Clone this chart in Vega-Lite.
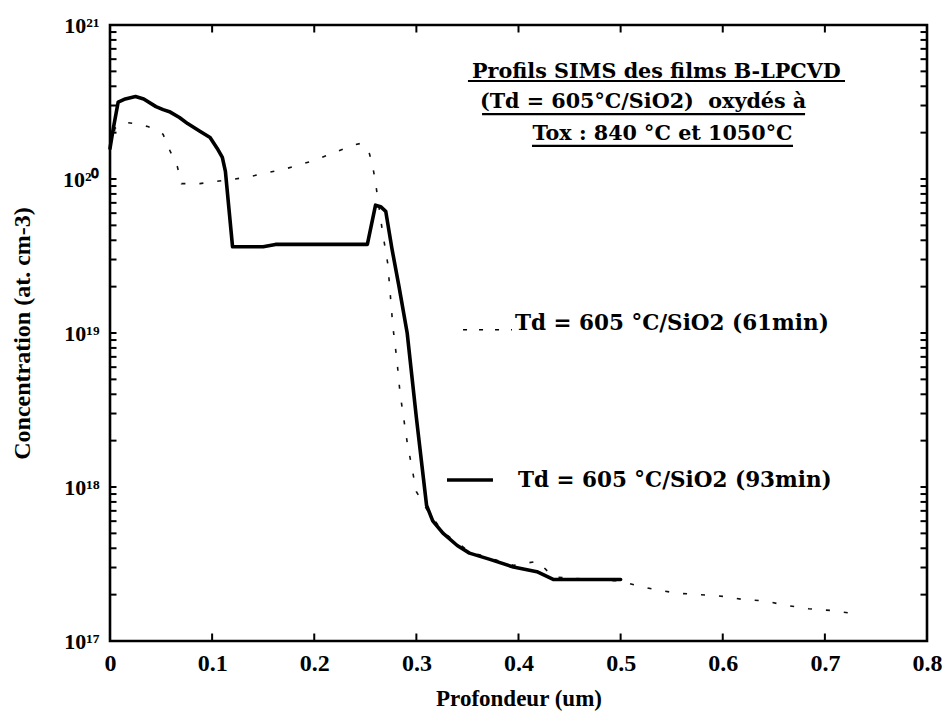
{
  "$schema": "https://vega.github.io/schema/vega-lite/v6.json",
  "width": 817,
  "height": 616,
  "autosize": {"type": "none"},
  "padding": {"left": 110, "top": 25, "right": 17, "bottom": 73},
  "background": "white",
  "config": {
    "view": {"stroke": "#000", "strokeWidth": 2.6},
    "axis": {
      "domain": false,
      "grid": false,
      "ticks": false,
      "labelColor": "#000",
      "titleColor": "#000",
      "labelFont": "Liberation Serif",
      "labelFontWeight": "bold",
      "titleFont": "Liberation Serif",
      "titleFontWeight": "bold"
    },
    "text": {"font": "DejaVu Serif", "fontWeight": "bold", "fontSize": 20, "color": "#000"},
    "tick": {"color": "#000", "thickness": 2, "opacity": 1}
  },
  "datasets": {
    "p61": [
      {"depth": 0.0, "conc": 1.58e20}, {"depth": 0.005, "conc": 2.14e20}, {"depth": 0.013, "conc": 2.34e20},
      {"depth": 0.025, "conc": 2.29e20}, {"depth": 0.037, "conc": 2.19e20}, {"depth": 0.045, "conc": 2.09e20},
      {"depth": 0.052, "conc": 1.95e20}, {"depth": 0.059, "conc": 1.51e20}, {"depth": 0.066, "conc": 1.2e20},
      {"depth": 0.07, "conc": 9.33e19}, {"depth": 0.08, "conc": 9.33e19}, {"depth": 0.088, "conc": 9.33e19},
      {"depth": 0.11, "conc": 9.77e19}, {"depth": 0.132, "conc": 1.02e20}, {"depth": 0.173, "conc": 1.17e20},
      {"depth": 0.2, "conc": 1.32e20}, {"depth": 0.238, "conc": 1.66e20}, {"depth": 0.245, "conc": 1.7e20},
      {"depth": 0.253, "conc": 1.55e20}, {"depth": 0.257, "conc": 1.23e20}, {"depth": 0.26, "conc": 9.55e19},
      {"depth": 0.262, "conc": 7.59e19}, {"depth": 0.267, "conc": 4.47e19}, {"depth": 0.272, "conc": 2.82e19},
      {"depth": 0.277, "conc": 1.1e19}, {"depth": 0.281, "conc": 6.61e18}, {"depth": 0.284, "conc": 4.07e18},
      {"depth": 0.291, "conc": 1.95e18}, {"depth": 0.3, "conc": 9.33e17}, {"depth": 0.31, "conc": 7.2e17},
      {"depth": 0.326, "conc": 5.1e17}, {"depth": 0.352, "conc": 3.8e17}, {"depth": 0.395, "conc": 3.1e17},
      {"depth": 0.419, "conc": 3.3e17}, {"depth": 0.434, "conc": 2.6e17}, {"depth": 0.5, "conc": 2.45e17},
      {"depth": 0.516, "conc": 2.29e17}, {"depth": 0.536, "conc": 2.14e17}, {"depth": 0.557, "conc": 2.04e17},
      {"depth": 0.578, "conc": 2.0e17}, {"depth": 0.6, "conc": 1.95e17}, {"depth": 0.62, "conc": 1.86e17},
      {"depth": 0.641, "conc": 1.82e17}, {"depth": 0.663, "conc": 1.7e17}, {"depth": 0.684, "conc": 1.62e17},
      {"depth": 0.705, "conc": 1.58e17}, {"depth": 0.727, "conc": 1.51e17}, {"depth": 0.735, "conc": 1.48e17}
    ],
    "p93": [
      {"depth": 0.0, "conc": 1.58e20}, {"depth": 0.003, "conc": 2.09e20}, {"depth": 0.008, "conc": 3.16e20},
      {"depth": 0.015, "conc": 3.31e20}, {"depth": 0.025, "conc": 3.43e20}, {"depth": 0.033, "conc": 3.31e20},
      {"depth": 0.045, "conc": 2.95e20}, {"depth": 0.052, "conc": 2.82e20}, {"depth": 0.059, "conc": 2.72e20},
      {"depth": 0.068, "conc": 2.51e20}, {"depth": 0.076, "conc": 2.29e20}, {"depth": 0.088, "conc": 2.04e20},
      {"depth": 0.098, "conc": 1.86e20}, {"depth": 0.105, "conc": 1.58e20}, {"depth": 0.11, "conc": 1.38e20},
      {"depth": 0.113, "conc": 1.12e20}, {"depth": 0.12, "conc": 3.63e19}, {"depth": 0.135, "conc": 3.63e19},
      {"depth": 0.15, "conc": 3.63e19}, {"depth": 0.162, "conc": 3.76e19}, {"depth": 0.2, "conc": 3.76e19},
      {"depth": 0.252, "conc": 3.76e19}, {"depth": 0.26, "conc": 6.76e19}, {"depth": 0.265, "conc": 6.61e19},
      {"depth": 0.27, "conc": 6.17e19}, {"depth": 0.276, "conc": 3.55e19}, {"depth": 0.283, "conc": 2.0e19},
      {"depth": 0.291, "conc": 1.0e19}, {"depth": 0.3, "conc": 2.82e18}, {"depth": 0.31, "conc": 7.59e17},
      {"depth": 0.316, "conc": 6.03e17}, {"depth": 0.326, "conc": 5.01e17}, {"depth": 0.34, "conc": 4.17e17},
      {"depth": 0.352, "conc": 3.72e17}, {"depth": 0.372, "conc": 3.39e17}, {"depth": 0.395, "conc": 3.02e17},
      {"depth": 0.418, "conc": 2.82e17}, {"depth": 0.434, "conc": 2.51e17}, {"depth": 0.45, "conc": 2.51e17},
      {"depth": 0.5, "conc": 2.51e17}
    ],
    "notes": [
      {"depth": 0.535, "conc": 4.53e20, "label": "Profils SIMS des films B-LPCVD"},
      {"depth": 0.522, "conc": 2.89e20, "label": "(Td = 605°C/SiO2)\u00a0 oxydés à"},
      {"depth": 0.541, "conc": 1.79e20, "label": "Tox : 840 °C et 1050°C"}
    ],
    "underlines": [
      {"from": 0.3505, "to": 0.7197, "conc": 4.33e20},
      {"from": 0.3643, "to": 0.6806, "conc": 2.64e20},
      {"from": 0.4132, "to": 0.6688, "conc": 1.64e20}
    ],
    "legend": [
      {"series": "61min", "from": 0.3457, "to": 0.3936, "conc": 1.05e19, "textAt": 0.3966, "textConc": 1.05e19, "label": "Td = 605 °C/SiO2 (61min)"},
      {"series": "93min", "from": 0.33, "to": 0.375, "conc": 1.11e18, "textAt": 0.3995, "textConc": 1.0e18, "label": "Td = 605 °C/SiO2 (93min)"}
    ],
    "depthTicks": [
      {"depth": 0.1}, {"depth": 0.2}, {"depth": 0.3}, {"depth": 0.4},
      {"depth": 0.5}, {"depth": 0.6}, {"depth": 0.7}
    ],
    "concTicks": [
      {"conc": 2e17}, {"conc": 3e17}, {"conc": 4e17}, {"conc": 5e17}, {"conc": 6e17}, {"conc": 7e17}, {"conc": 8e17}, {"conc": 9e17},
      {"conc": 1e18}, {"conc": 2e18}, {"conc": 3e18}, {"conc": 4e18}, {"conc": 5e18}, {"conc": 6e18}, {"conc": 7e18}, {"conc": 8e18}, {"conc": 9e18},
      {"conc": 1e19}, {"conc": 2e19}, {"conc": 3e19}, {"conc": 4e19}, {"conc": 5e19}, {"conc": 6e19}, {"conc": 7e19}, {"conc": 8e19}, {"conc": 9e19},
      {"conc": 1e20}, {"conc": 2e20}, {"conc": 3e20}, {"conc": 4e20}, {"conc": 5e20}, {"conc": 6e20}, {"conc": 7e20}, {"conc": 8e20}, {"conc": 9e20}
    ]
  },
  "layer": [
    {
      "data": {"name": "p61"},
      "mark": {"type": "line", "color": "#111", "strokeWidth": 1.6, "strokeDash": [4, 14]},
      "encoding": {
        "x": {
          "field": "depth", "type": "quantitative",
          "scale": {"domain": [0, 0.8], "nice": false},
          "axis": {
            "orient": "bottom",
            "title": "Profondeur (um)",
            "titleFontSize": 23,
            "titlePadding": 12,
            "values": [0, 0.1, 0.2, 0.3, 0.4, 0.5, 0.6, 0.7, 0.8],
            "labelExpr": "datum.value == 0 ? '0' : format(datum.value, '.1f')",
            "labelFontSize": 24,
            "labelPadding": 10,
            "labelFlush": false
          }
        },
        "y": {
          "field": "conc", "type": "quantitative",
          "scale": {"type": "log", "domain": [1e17, 1e21], "nice": false},
          "axis": {
            "orient": "left",
            "title": "Concentration (at. cm-3)",
            "titleFont": "Liberation Sans Narrow",
            "titleFontSize": 24,
            "titlePadding": 28,
            "values": [1e17, 1e18, 1e19, 1e20, 1e21],
            "labelExpr": "'10' + ['\u00b9\u2077', '\u00b9\u2078', '\u00b9\u2079', '\u00b2\u2070', '\u00b2\u00b9'][round(log(datum.value) / LN10) - 17]",
            "labelFontSize": 22,
            "labelPadding": 11,
            "labelFlush": false,
            "labelOverlap": false
          }
        }
      }
    },
    {
      "data": {"name": "p93"},
      "mark": {"type": "line", "color": "#000", "strokeWidth": 3.6, "strokeJoin": "round", "strokeCap": "round"},
      "encoding": {
        "x": {"field": "depth", "type": "quantitative", "scale": {"domain": [0, 0.8], "nice": false}},
        "y": {"field": "conc", "type": "quantitative", "scale": {"type": "log", "domain": [1e17, 1e21], "nice": false}}
      }
    },
    {
      "data": {"name": "depthTicks"},
      "mark": {"type": "tick", "orient": "vertical", "size": 15, "clip": true},
      "encoding": {
        "x": {"field": "depth", "type": "quantitative", "scale": {"domain": [0, 0.8], "nice": false}},
        "y": {"datum": 1e17, "type": "quantitative", "scale": {"type": "log", "domain": [1e17, 1e21], "nice": false}}
      }
    },
    {
      "data": {"name": "depthTicks"},
      "mark": {"type": "tick", "orient": "vertical", "size": 15, "clip": true},
      "encoding": {
        "x": {"field": "depth", "type": "quantitative", "scale": {"domain": [0, 0.8], "nice": false}},
        "y": {"datum": 1e21, "type": "quantitative", "scale": {"type": "log", "domain": [1e17, 1e21], "nice": false}}
      }
    },
    {
      "data": {"name": "concTicks"},
      "mark": {"type": "tick", "orient": "horizontal", "size": 13, "clip": true},
      "encoding": {
        "x": {"datum": 0, "type": "quantitative", "scale": {"domain": [0, 0.8], "nice": false}},
        "y": {"field": "conc", "type": "quantitative", "scale": {"type": "log", "domain": [1e17, 1e21], "nice": false}}
      }
    },
    {
      "data": {"name": "concTicks"},
      "mark": {"type": "tick", "orient": "horizontal", "size": 13, "clip": true},
      "encoding": {
        "x": {"datum": 0.8, "type": "quantitative", "scale": {"domain": [0, 0.8], "nice": false}},
        "y": {"field": "conc", "type": "quantitative", "scale": {"type": "log", "domain": [1e17, 1e21], "nice": false}}
      }
    },
    {
      "data": {"name": "underlines"},
      "mark": {"type": "rule", "color": "#000", "strokeWidth": 2.2},
      "encoding": {
        "x": {"field": "from", "type": "quantitative", "scale": {"domain": [0, 0.8], "nice": false}},
        "x2": {"field": "to"},
        "y": {"field": "conc", "type": "quantitative", "scale": {"type": "log", "domain": [1e17, 1e21], "nice": false}}
      }
    },
    {
      "data": {"name": "legend"},
      "mark": {"type": "rule", "color": "#000"},
      "encoding": {
        "x": {"field": "from", "type": "quantitative", "scale": {"domain": [0, 0.8], "nice": false}},
        "x2": {"field": "to"},
        "y": {"field": "conc", "type": "quantitative", "scale": {"type": "log", "domain": [1e17, 1e21], "nice": false}},
        "strokeWidth": {"field": "series", "type": "nominal", "scale": {"domain": ["61min", "93min"], "range": [1.6, 3.6]}, "legend": null},
        "strokeDash": {"field": "series", "type": "nominal", "scale": {"domain": ["61min", "93min"], "range": [[4, 12], [1, 0]]}, "legend": null}
      }
    },
    {
      "data": {"name": "notes"},
      "mark": {"type": "text", "align": "center", "baseline": "alphabetic", "fontSize": 20.7},
      "encoding": {
        "x": {"field": "depth", "type": "quantitative", "scale": {"domain": [0, 0.8], "nice": false}},
        "y": {"field": "conc", "type": "quantitative", "scale": {"type": "log", "domain": [1e17, 1e21], "nice": false}},
        "text": {"field": "label"}
      }
    },
    {
      "data": {"name": "legend"},
      "mark": {"type": "text", "align": "left", "baseline": "alphabetic", "fontSize": 21.5},
      "encoding": {
        "x": {"field": "textAt", "type": "quantitative", "scale": {"domain": [0, 0.8], "nice": false}},
        "y": {"field": "textConc", "type": "quantitative", "scale": {"type": "log", "domain": [1e17, 1e21], "nice": false}},
        "text": {"field": "label"}
      }
    }
  ]
}
